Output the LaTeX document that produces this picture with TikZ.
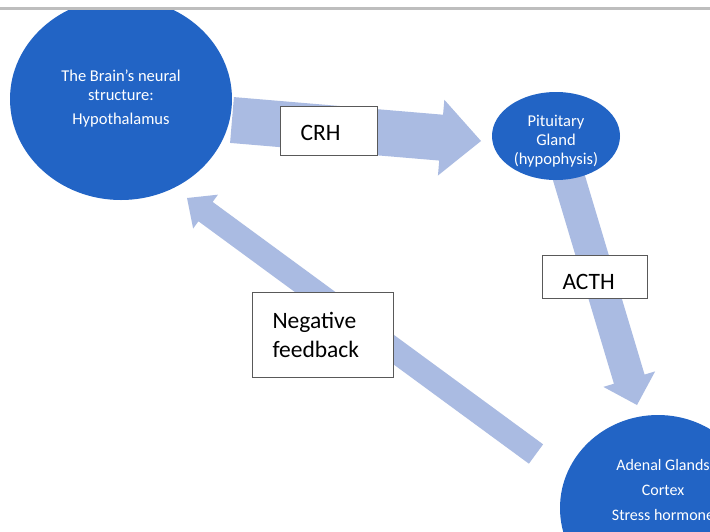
\documentclass[tikz,border=0pt]{standalone}
\usepackage{fontspec}
\setmainfont{Carlito}
\usetikzlibrary{shapes.geometric,calc}
\definecolor{nodeblue}{HTML}{2264C5}
\definecolor{arrowblue}{HTML}{AABBE2}
\definecolor{rulegray}{HTML}{BEBEBE}
\newcommand\fatarrow[5]{%
  \coordinate (fa-b) at ($(#2)!#5!(#1)$);
  \fill[arrowblue] ($(#1)!#3!90:(#2)$) -- ($(fa-b)!#3!90:(#2)$) -- ($(fa-b)!#4!90:(#2)$) -- (#2)
    -- ($(fa-b)!#4!-90:(#2)$) -- ($(fa-b)!#3!-90:(#2)$) -- ($(#1)!#3!-90:(#2)$) -- cycle;}
\tikzset{
  organ/.style={ellipse, fill=nodeblue, inner sep=0pt},
  organtext/.style={text=white, align=center, inner sep=0pt},
  lbl/.style={draw=black!65, line width=1pt, fill=white, align=left, inner ysep=0pt,
    font=\fontsize{23.5}{29}\selectfont}
}
\begin{document}
\begin{tikzpicture}[x=1pt,y=-1pt]
\useasboundingbox (0,0) rectangle (710,531);
\clip (0,0) rectangle (710,531);
\fill[white] (0,0) rectangle (710,531);
% connector end points
\coordinate (crhS) at (232,120);  \coordinate (crhT) at (481,141);
\coordinate (acthS) at (566,168); \coordinate (acthT) at (637,405);
\coordinate (negS) at (536,454);  \coordinate (negT) at (187,198);
\fatarrow{crhS}{crhT}{23pt}{38pt}{40pt}
\fatarrow{acthS}{acthT}{16pt}{27pt}{27pt}
\fatarrow{negS}{negT}{12pt}{21pt}{23pt}
% organs
\begin{scope}
  \clip (0,9.5) rectangle (710,531);
  \node[organ, minimum width=222pt, minimum height=202pt] (hyp) at (121,99) {};
\end{scope}
\node[organ, minimum width=128pt, minimum height=88pt] (pit) at (556,136) {};
\node[organ, minimum width=196pt, minimum height=186pt] (adr) at (658,508) {};
\node[organtext, font=\fontsize{16.5}{19}\selectfont] (hyptext) at (121,99)
  {The Brain's neural\\structure:\\[5pt]Hypothalamus};
\node[organtext, font=\fontsize{16.5}{19}\selectfont] (pittext) at (556,141)
  {Pituitary\\Gland\\(hypophysis)};
\node[organtext, font=\fontsize{16}{25}\selectfont] (adrtext) at (663,490)
  {Adenal Glands\\Cortex\\Stress hormone};
% labels
\node[lbl, minimum width=97pt, minimum height=49pt, text width=56pt, inner xsep=20.5pt]
  (crh) at (328.5,130.5) {\raisebox{0pt}[19.5pt][0pt]{CRH}};
\node[lbl, minimum width=105pt, minimum height=43pt, text width=64pt, inner xsep=20.5pt]
  (acth) at (594.5,276.5) {\raisebox{0pt}[25pt][0pt]{ACTH}};
\node[lbl, minimum width=141pt, minimum height=85pt, text width=100pt, inner xsep=20.5pt]
  (neg) at (322.5,334.5) {Negative\\feedback};
% top rule
\draw[rulegray, line width=3pt] (0,8) -- (710,8);
\end{tikzpicture}
\end{document}
